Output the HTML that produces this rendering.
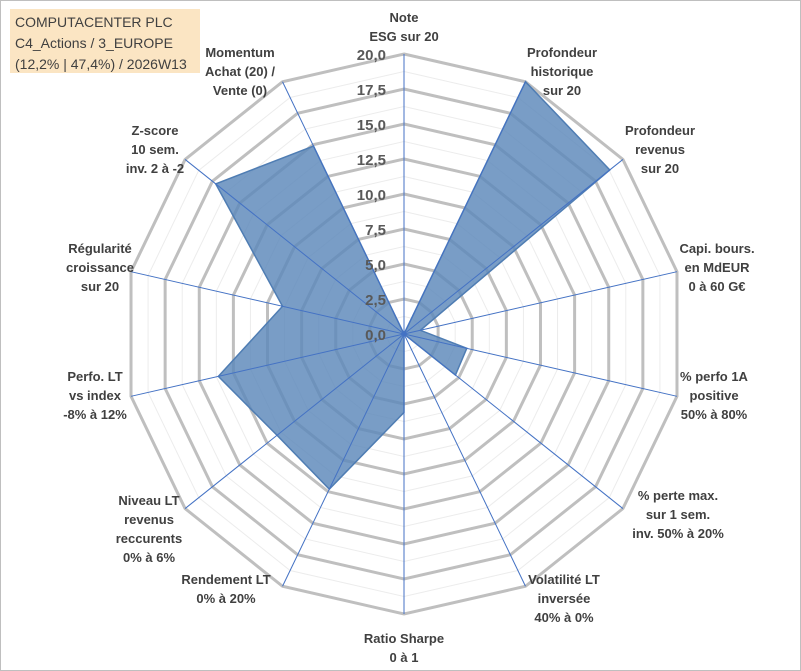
<!DOCTYPE html>
<html><head><meta charset="utf-8"><style>
body{margin:0;background:#fff}
#wrap{position:relative;width:801px;height:671px;overflow:hidden;font-family:"Liberation Sans",Arial,sans-serif}
svg{position:absolute;left:0;top:0}
</style></head><body>
<div id="wrap">
<svg id="chart" width="801" height="671"></svg>
</div>
<script>
const categories=[["Note","ESG sur 20"],["Profondeur","historique","sur 20"],["Profondeur","revenus","sur 20"],["Capi. bours.","en MdEUR","0 à 60 G€"],["% perfo 1A","positive","50% à 80%"],["% perte max.","sur 1 sem.","inv. 50% à 20%"],["Volatilité LT","inversée","40% à 0%"],["Ratio Sharpe","0 à 1"],["Rendement LT","0% à 20%"],["Niveau LT","revenus","reccurents","0% à 6%"],["Perfo. LT","vs index","-8% à 12%"],["Régularité","croissance","sur 20"],["Z-score","10 sem.","inv. 2 à -2"],["Momentum","Achat (20) /","Vente (0)"]];
const values=[0,20,18.8,1.2,4.6,4.7,0,5.6,12.3,11.6,13.6,8.9,17.2,14.9];
const tickLabels=["0,0","2,5","5,0","7,5","10,0","12,5","15,0","17,5","20,0"];
const maxVal=20;
const labelPos=[[404,22],[562,57],[660,135],[717,253],[714,381],[678,500],[564,584],[404,643],[226,584],[149,505],[95,381],[100,253],[155,135],[240,57]];

const NS="http://www.w3.org/2000/svg";
const svg=document.getElementById('chart');
const cx=404,cy=334,R=280,N=categories.length;
function ang(i){return i*2*Math.PI/N;}
function pt(i,v){const r=v/maxVal*R;return [cx+r*Math.sin(ang(i)),cy-r*Math.cos(ang(i))];}
function mk(t,a){const e=document.createElementNS(NS,t);for(const k in a)e.setAttribute(k,a[k]);svg.appendChild(e);return e;}

const bg=mk('rect',{x:0.5,y:0.5,width:800,height:670,fill:'#fff',stroke:'#bfbfbf'});



for(let k=1;k<=16;k++){
  const v=k*1.25,ps=[];
  for(let i=0;i<N;i++)ps.push(pt(i,v).join(','));
  const major=k%2===0;
  const g=mk('polygon',{points:ps.join(' '),fill:'none',stroke:major?'#bfbfbf':'#ececec','stroke-width':major?3:1});
  
  
}
const ps=[];
for(let i=0;i<N;i++)ps.push(pt(i,values[i]).join(','));
const area=mk('polygon',{points:ps.join(' '),fill:'#5b87b9','fill-opacity':0.82,stroke:'#4f7db3','stroke-width':1.5});


for(let i=0;i<N;i++){
  const e=pt(i,maxVal);
  const l=mk('line',{x1:cx,y1:cy,x2:e[0],y2:e[1],stroke:'#4472c4','stroke-width':1});
  
  
}
tickLabels.forEach((t,k)=>{
  const y=cy-(k*2.5)/maxVal*R;
  const tx=mk('text',{x:cx-18,y:y+6,'text-anchor':'end','font-size':15,'font-weight':'bold',fill:'#595959'});
  tx.textContent=t;
  
  
});
categories.forEach((lines,i)=>{
  const [x,y]=labelPos[i];
  const tx=mk('text',{x:x,y:y,'text-anchor':'middle','font-size':13,'font-weight':'bold',fill:'#404040'});
  
  
  lines.forEach((s,j)=>{const sp=document.createElementNS(NS,'tspan');sp.setAttribute('x',x);sp.setAttribute('dy',j?19:0);sp.textContent=s;tx.appendChild(sp);});
});
const tb=mk('rect',{x:10,y:9,width:190,height:64,fill:'#fbe5c3'});


const title=mk('text',{x:15,y:27,'font-size':14,fill:'#404040'});


["COMPUTACENTER PLC","C4_Actions / 3_EUROPE","(12,2% | 47,4%) / 2026W13"].forEach((s,j)=>{const sp=document.createElementNS(NS,'tspan');sp.setAttribute('x',15);sp.setAttribute('dy',j?21:0);sp.textContent=s;title.appendChild(sp);});
</script>
</body></html>
